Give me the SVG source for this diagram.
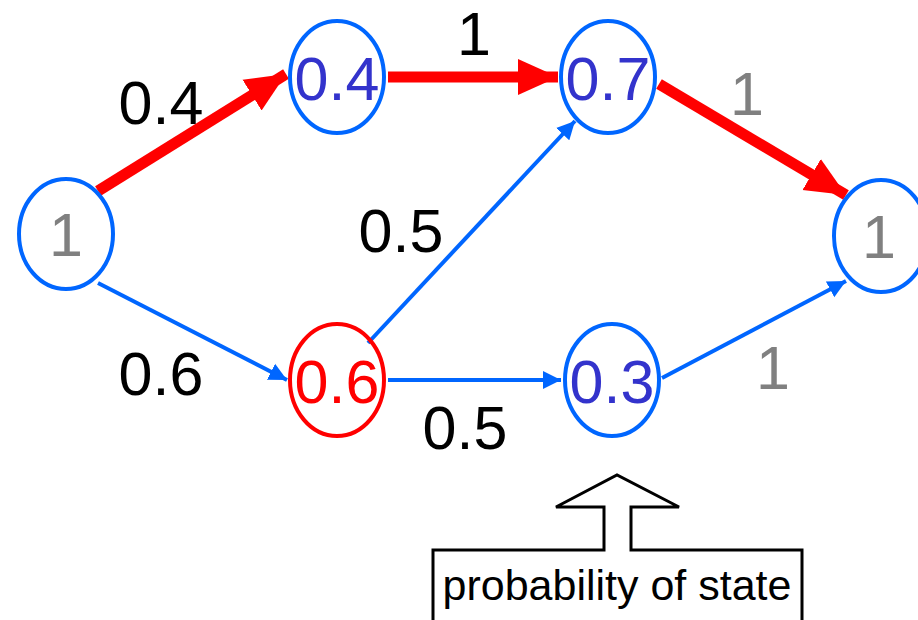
<svg xmlns="http://www.w3.org/2000/svg" width="918" height="620" viewBox="0 0 918 620">
<style>
.node{fill:none;stroke-width:4}
.b{stroke:#0066FF}
.r{stroke:#FF0000}
text{font-family:"Liberation Sans",Arial,sans-serif;font-size:61px;text-anchor:middle}
.tb{fill:#3333CC}
.tg{fill:#808080}
.tr{fill:#FF0000}
.lbl{fill:#000000}
.thick{stroke:#FF0000;stroke-width:11;fill:none}
.thin{stroke:#0066FF;stroke-width:4;fill:none}
</style>
<defs>
<marker id="ah-red" markerUnits="userSpaceOnUse" markerWidth="42" markerHeight="42" viewBox="0 0 42 42" refX="40" refY="21" orient="auto">
<path d="M0,3 L40,21 L0,39 Z" fill="#FF0000"/>
</marker>
<marker id="ah-blue" markerUnits="userSpaceOnUse" markerWidth="20" markerHeight="20" viewBox="0 0 20 20" refX="18" refY="10" orient="auto">
<path d="M0,1 L18,10 L0,19 Z" fill="#0066FF"/>
</marker>
</defs>
<g id="connectors">
<line class="thick" x1="98" y1="191" x2="286" y2="74" marker-end="url(#ah-red)"/>
<line class="thick" x1="388" y1="77" x2="558" y2="77" marker-end="url(#ah-red)"/>
<line class="thick" x1="659" y1="84" x2="846" y2="195" marker-end="url(#ah-red)"/>
<line class="thin" x1="98" y1="283" x2="287" y2="380" marker-end="url(#ah-blue)"/>
<line class="thin" x1="368" y1="343" x2="575" y2="121" marker-end="url(#ah-blue)"/>
<line class="thin" x1="388" y1="380" x2="561" y2="380" marker-end="url(#ah-blue)"/>
<line class="thin" x1="662" y1="378" x2="846" y2="281" marker-end="url(#ah-blue)"/>
</g>
<g id="node-start">
<ellipse class="node b" cx="66" cy="234" rx="47" ry="55"/>
<text class="tg" x="66" y="256">1</text>
</g>
<g id="node-04">
<ellipse class="node b" cx="337" cy="77" rx="47" ry="56"/>
<text class="tb" x="337" y="100">0.4</text>
</g>
<g id="node-07">
<ellipse class="node b" cx="608" cy="77" rx="47" ry="56"/>
<text class="tb" x="608" y="100">0.7</text>
</g>
<g id="node-06">
<ellipse class="node r" cx="337" cy="380" rx="47" ry="56"/>
<text class="tr" x="337" y="403">0.6</text>
</g>
<g id="node-03">
<ellipse class="node b" cx="612" cy="380" rx="47" ry="56"/>
<text class="tb" x="612" y="403">0.3</text>
</g>
<g id="node-end">
<ellipse class="node b" cx="881" cy="236" rx="47" ry="56"/>
<text class="tg" x="879" y="258">1</text>
</g>
<g id="labels">
<text class="lbl" x="161" y="124">0.4</text>
<text class="lbl" x="474" y="55">1</text>
<text class="lbl" x="401" y="252">0.5</text>
<text class="lbl" x="161" y="395">0.6</text>
<text class="lbl" x="465" y="449">0.5</text>
<text class="tg" x="747" y="115">1</text>
<text class="tg" x="773" y="389">1</text>
</g>
<g id="callout">
<path d="M433,550 L604,550 L604,507 L556,507 L617,475 L679,507 L631,507 L631,550 L802,550 L802,622 L433,622 Z" fill="#FFFFFF" stroke="#000000" stroke-width="3"/>
<text x="617" y="600" style="font-size:43px">probability of state</text>
</g>
</svg>
